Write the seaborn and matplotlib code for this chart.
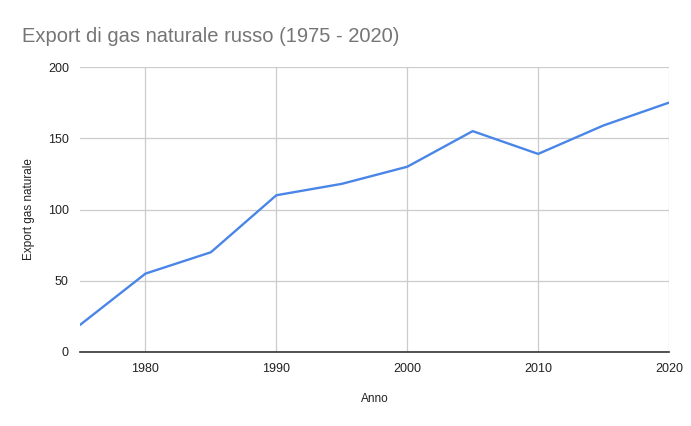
import matplotlib
matplotlib.use("Agg")
import matplotlib.pyplot as plt
import pandas as pd
import seaborn as sns

# ── Data ──────────────────────────────────────────────────────────────────────
anni = [1975, 1980, 1985, 1990, 1995, 2000, 2005, 2010, 2015, 2020]
export_gas = [19, 55, 70, 110, 118, 130, 155, 139, 159, 175]
x_ticks = [1980, 1990, 2000, 2010, 2020]
y_ticks = [0, 50, 100, 150, 200]

df = pd.DataFrame({"Anno": anni, "Export gas naturale": export_gas})

# ── Plot ──────────────────────────────────────────────────────────────────────
sns.set_style("white")
plt.rcParams["font.family"] = ["Liberation Sans", "DejaVu Sans"]

fig = plt.figure(figsize=(6.91, 4.26), dpi=100)
ax = fig.add_axes([80 / 691, 1 - 352 / 426, (669 - 80) / 691, (352 - 67) / 426])

sns.lineplot(data=df, x="Anno", y="Export gas naturale", color="#4a86e8",
             linewidth=1.7, ax=ax)

ax.set_xlim(1975, 2020)
ax.set_ylim(0, 200)
ax.set_xticks(x_ticks)
ax.set_yticks(y_ticks)
ax.grid(True, color="#cccccc", linewidth=0.9)
ax.set_axisbelow(True)
for side in ("top", "right", "left"):
    ax.spines[side].set_visible(False)
ax.spines["bottom"].set_color("#333333")
ax.spines["bottom"].set_linewidth(1.2)
ax.spines["bottom"].set_zorder(3)
ax.tick_params(axis="both", length=0, labelsize=9, colors="#222222", pad=8)

ax.set_xlabel("Anno", fontsize=8.5, color="#222222", labelpad=13)
ax.set_ylabel("Export gas naturale", fontsize=8.5, color="#222222", labelpad=9)

fig.text(22 / 691, 1 - 36 / 426, "Export di gas naturale russo (1975 - 2020)",
         fontsize=14.5, color="#757575", va="center", ha="left")

fig.savefig("out.png", dpi=100)
